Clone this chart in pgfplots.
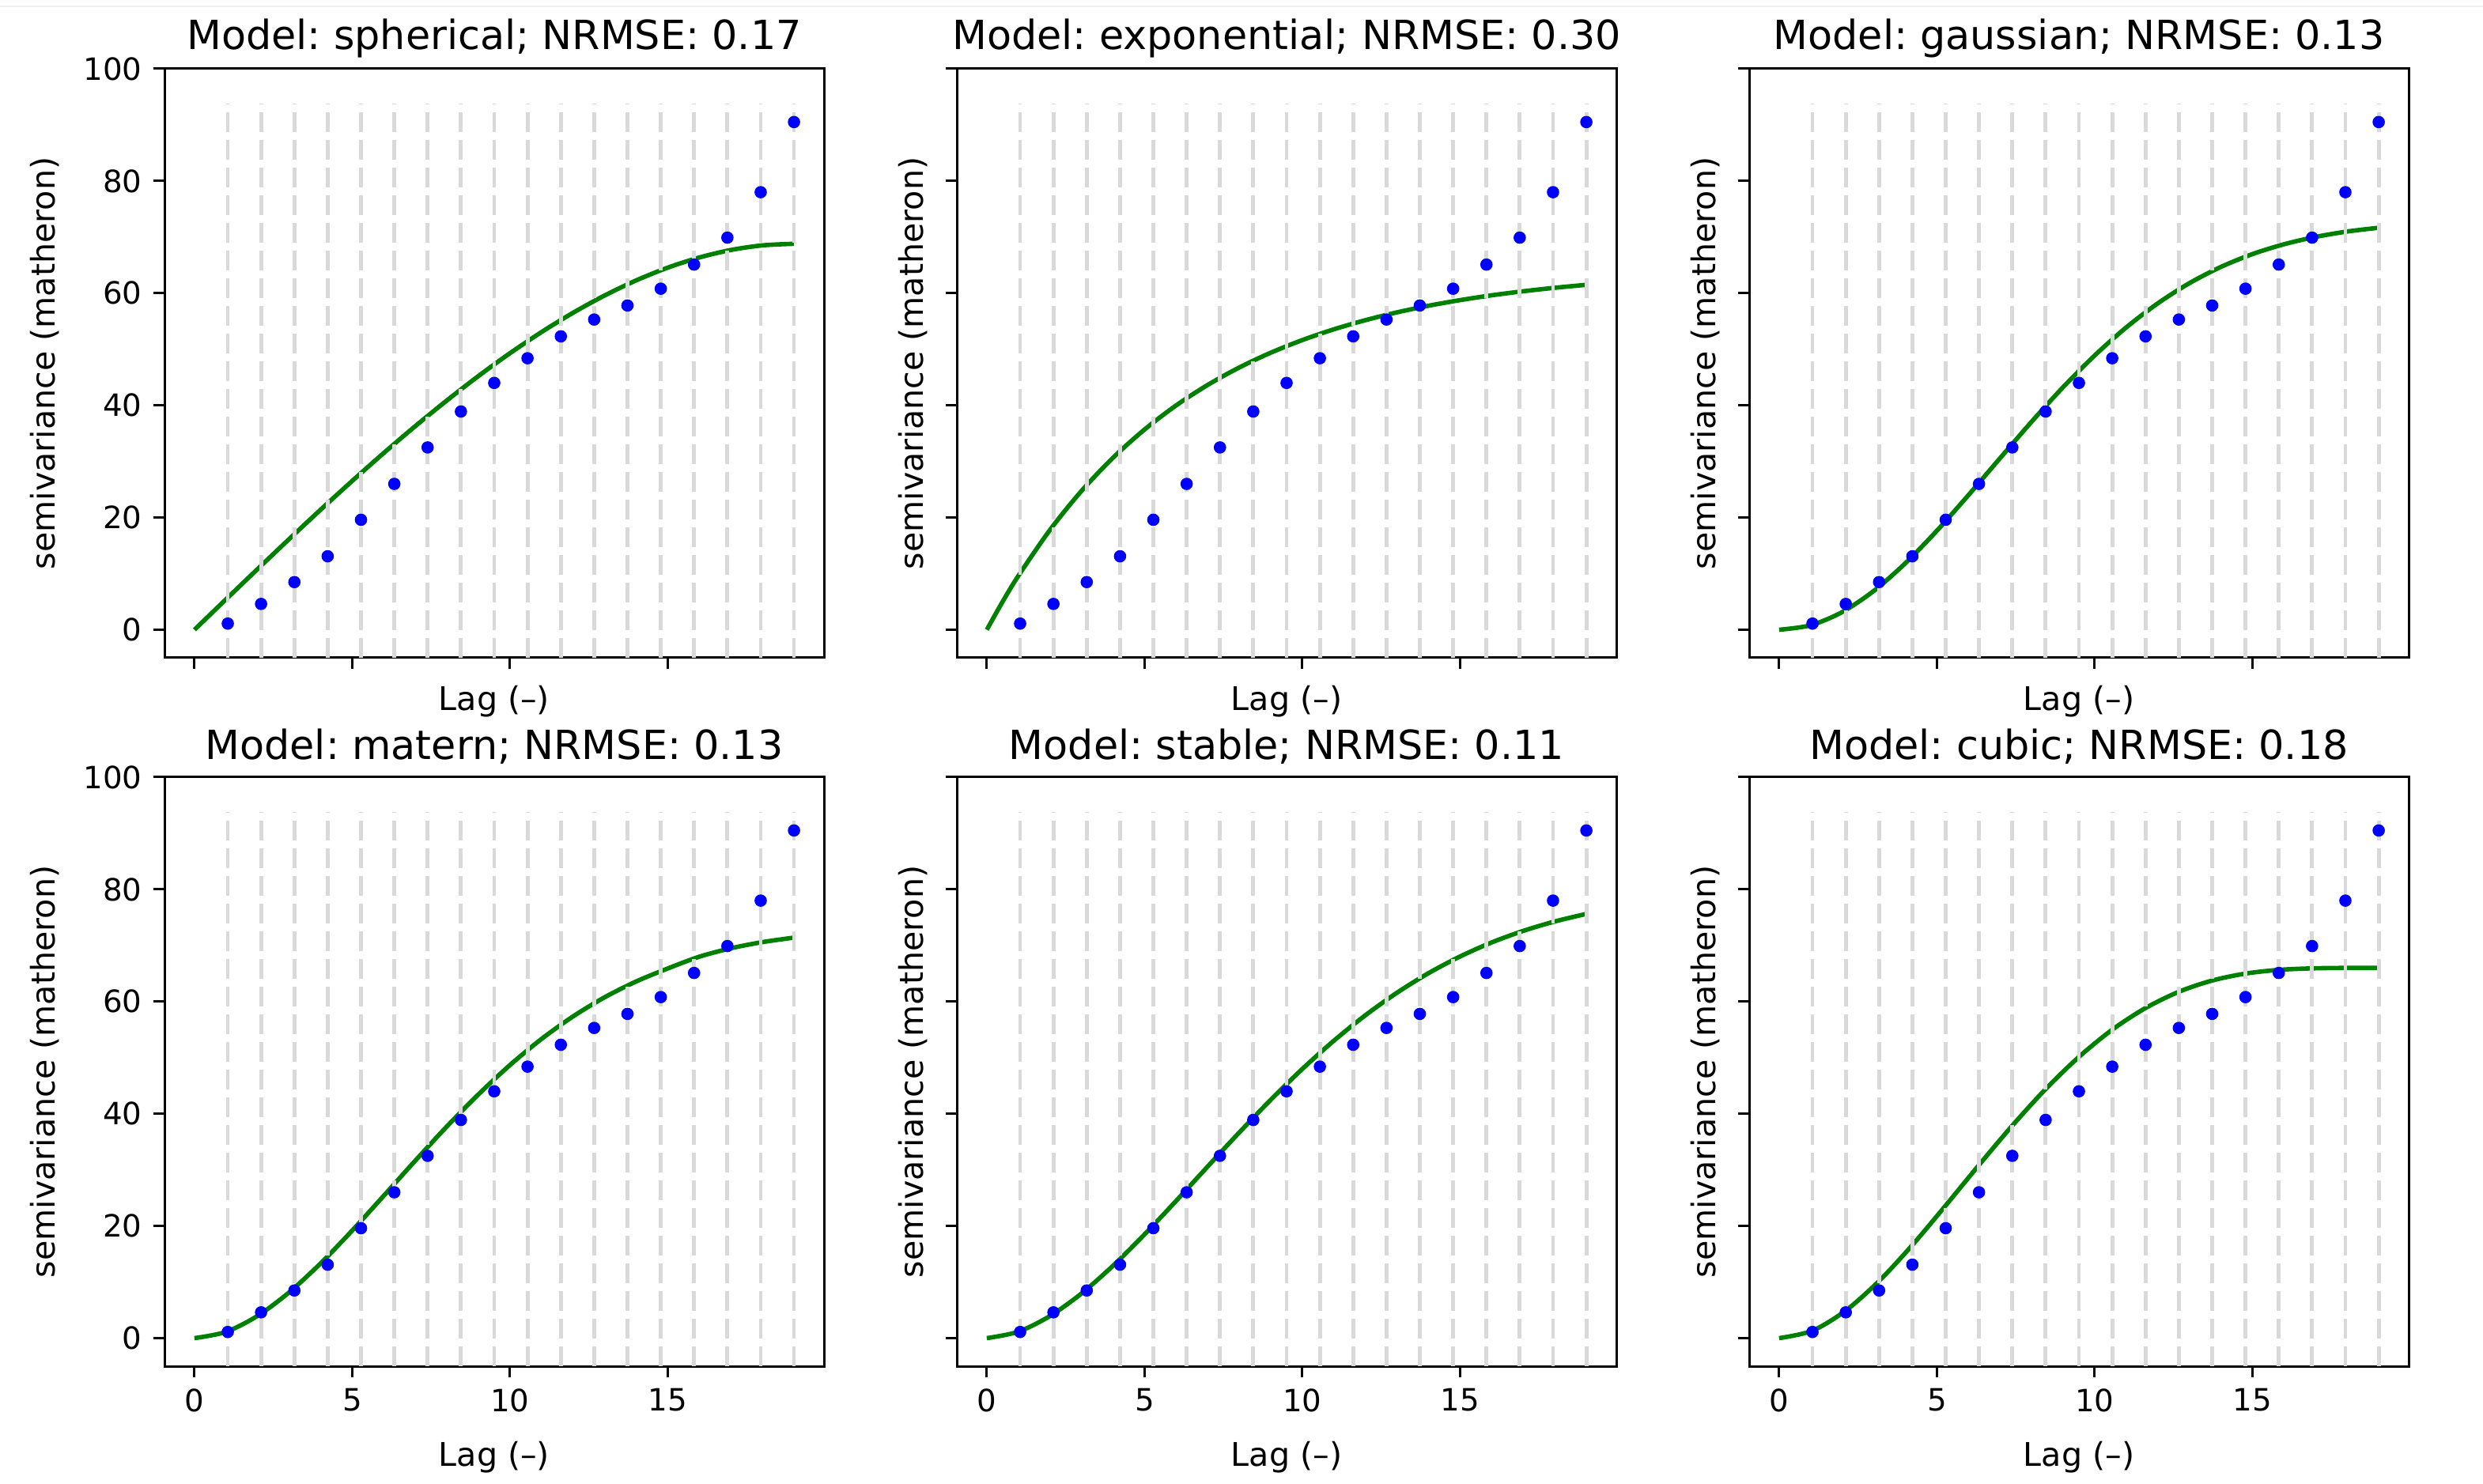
\documentclass[border=0pt]{standalone}
\usepackage{fontspec}
\setmainfont{DejaVu Sans}
\frenchspacing
\usepackage{pgfplots}
\usepackage{pgfplotstable}
\pgfplotsset{compat=1.18}

% experimental semivariogram (same in every panel)
\pgfplotstableread{
x y
1.0556 1.1
2.1111 4.6
3.1667 8.5
4.2222 13.1
5.2778 19.6
6.3333 26.0
7.3889 32.5
8.4444 38.9
9.5 44.0
10.5556 48.4
11.6111 52.3
12.6667 55.3
13.7222 57.8
14.7778 60.8
15.8333 65.1
16.8889 69.9
17.9444 78.0
19 90.5
}\points

% fitted models
\pgfplotstableread{
x y
0 0
1 5.43
2 10.82
3 16.16
4 21.41
5 26.53
6 31.51
7 36.30
8 40.88
9 45.23
10 49.30
11 53.07
12 56.51
13 59.59
14 62.28
15 64.55
16 66.36
17 67.70
18 68.52
19 68.80
}\spherical

\pgfplotstableread{
x y
0 0
0.5 5.00
1 9.61
2 17.78
3 24.74
4 30.66
5 35.70
6 39.99
7 43.64
8 46.75
9 49.39
10 51.64
11 53.56
12 55.19
13 56.58
14 57.76
15 58.76
16 59.62
17 60.34
18 60.96
19 61.49
}\exponential

\pgfplotstableread{
x y
0 0
1 0.80
2 3.16
3 6.93
4 11.86
5 17.66
6 24.01
7 30.58
8 37.08
9 43.25
10 48.90
11 53.90
12 58.19
13 61.78
14 64.68
15 66.97
16 68.72
17 70.03
18 70.99
19 71.66
}\gaussian

\pgfplotstableread{
x y
0 0
1 1.12
2 3.97
3 8.16
4 13.34
5 19.19
6 25.39
7 31.65
8 37.74
9 43.46
10 48.69
11 53.34
12 57.36
13 60.77
14 63.59
15 65.90
16 68.00
17 69.50
18 70.60
19 71.40
}\matern

\pgfplotstableread{
x y
0 0
1 1.15
2 3.94
3 7.96
4 12.91
5 18.50
6 24.47
7 30.60
8 36.66
9 42.50
10 47.99
11 53.03
12 57.57
13 61.58
14 65.07
15 68.04
16 70.54
17 72.60
18 74.28
19 75.63
}\stable

\pgfplotstableread{
x y
0 0
1.0556 1.33
2.1111 4.92
3.1667 10.19
4.2222 16.60
5.2778 23.65
6.3333 30.87
7.3889 37.89
8.4444 44.40
9.5 50.14
10.5556 54.99
11.6111 58.85
12.6667 61.75
13.7222 63.75
14.7778 64.99
15.8333 65.65
16.8889 65.92
17.9444 66.00
19 66.00
}\cubic

\newcommand{\labfont}{\fontsize{10.3}{12}\selectfont}

\pgfplotsset{
  vario/.style={
    scale only axis, width=208.5pt, height=186.25pt,
    anchor=south west,
    xmin=-0.95, xmax=19.95, ymin=-5, ymax=100,
    xtick={0,5,10,15}, ytick={0,20,...,100},
    tick pos=left, tick align=outside, major tick length=3.6pt,
    every tick/.style={black, line width=0.75pt},
    axis line style={line width=0.75pt},
    /pgf/number format/assume math mode=true,
    tick label style={font=\fontsize{9.7}{11}\selectfont},
    every axis title/.style={at={(axis description cs:0.5,1.052)}, anchor=center,
      font=\fontsize{12.7}{15}\selectfont},
    ylabel={semivariance (matheron)},
    xlabel={Lag (--)},
    unbounded coords=jump,
  },
  leftcol/.style={every axis y label/.style={at={(axis description cs:-0.182,0.5)}, anchor=center, rotate=90, font=\labfont}},
  othercol/.style={yticklabels={}, every axis y label/.style={at={(axis description cs:-0.067,0.5)}, anchor=center, rotate=90, font=\labfont}},
  toprow/.style={xticklabels={}, every axis x label/.style={at={(axis description cs:0.5,-0.074)}, anchor=center, font=\labfont}},
  botrow/.style={every axis x label/.style={at={(axis description cs:0.5,-0.154)}, anchor=center, font=\labfont}},
  model/.style={color={rgb,1:red,0;green,0.5;blue,0}, line width=1.4pt, smooth, no marks},
  obs/.style={only marks, mark=*, mark size=1.75pt, color=blue},
  bins/.style={color=gray!30, line width=1.2pt, dash pattern=on 6.25pt off 2.5pt, no marks},
}

\newcommand{\binlines}{%
  \addplot[bins] coordinates {
    (1.0556,-5) (1.0556,93.8) (1.0556,nan)
    (2.1111,-5) (2.1111,93.8) (2.1111,nan)
    (3.1667,-5) (3.1667,93.8) (3.1667,nan)
    (4.2222,-5) (4.2222,93.8) (4.2222,nan)
    (5.2778,-5) (5.2778,93.8) (5.2778,nan)
    (6.3333,-5) (6.3333,93.8) (6.3333,nan)
    (7.3889,-5) (7.3889,93.8) (7.3889,nan)
    (8.4444,-5) (8.4444,93.8) (8.4444,nan)
    (9.5,-5) (9.5,93.8) (9.5,nan)
    (10.5556,-5) (10.5556,93.8) (10.5556,nan)
    (11.6111,-5) (11.6111,93.8) (11.6111,nan)
    (12.6667,-5) (12.6667,93.8) (12.6667,nan)
    (13.7222,-5) (13.7222,93.8) (13.7222,nan)
    (14.7778,-5) (14.7778,93.8) (14.7778,nan)
    (15.8333,-5) (15.8333,93.8) (15.8333,nan)
    (16.8889,-5) (16.8889,93.8) (16.8889,nan)
    (17.9444,-5) (17.9444,93.8) (17.9444,nan)
    (19,-5) (19,93.8)
  };}

\begin{document}
\begin{tikzpicture}
\path[use as bounding box] (0,0) rectangle (785pt,469pt);
\draw[gray!12, line width=0.5pt] (0,467pt) -- (785pt,467pt);

\begin{axis}[vario, leftcol, toprow, at={(52pt,261pt)},
  title={Model: spherical; NRMSE: 0.17}]
\addplot[model] table {\spherical};
\addplot[obs] table {\points};
\binlines
\end{axis}

\begin{axis}[vario, othercol, toprow, at={(302.5pt,261pt)},
  title={Model: exponential; NRMSE: 0.30}]
\addplot[model] table {\exponential};
\addplot[obs] table {\points};
\binlines
\end{axis}

\begin{axis}[vario, othercol, toprow, at={(553pt,261pt)},
  title={Model: gaussian; NRMSE: 0.13}]
\addplot[model] table {\gaussian};
\addplot[obs] table {\points};
\binlines
\end{axis}

\begin{axis}[vario, leftcol, botrow, at={(52pt,37pt)},
  title={Model: matern; NRMSE: 0.13}]
\addplot[model] table {\matern};
\addplot[obs] table {\points};
\binlines
\end{axis}

\begin{axis}[vario, othercol, botrow, at={(302.5pt,37pt)},
  title={Model: stable; NRMSE: 0.11}]
\addplot[model] table {\stable};
\addplot[obs] table {\points};
\binlines
\end{axis}

\begin{axis}[vario, othercol, botrow, at={(553pt,37pt)},
  title={Model: cubic; NRMSE: 0.18}]
\addplot[model] table {\cubic};
\addplot[obs] table {\points};
\binlines
\end{axis}
\end{tikzpicture}
\end{document}
